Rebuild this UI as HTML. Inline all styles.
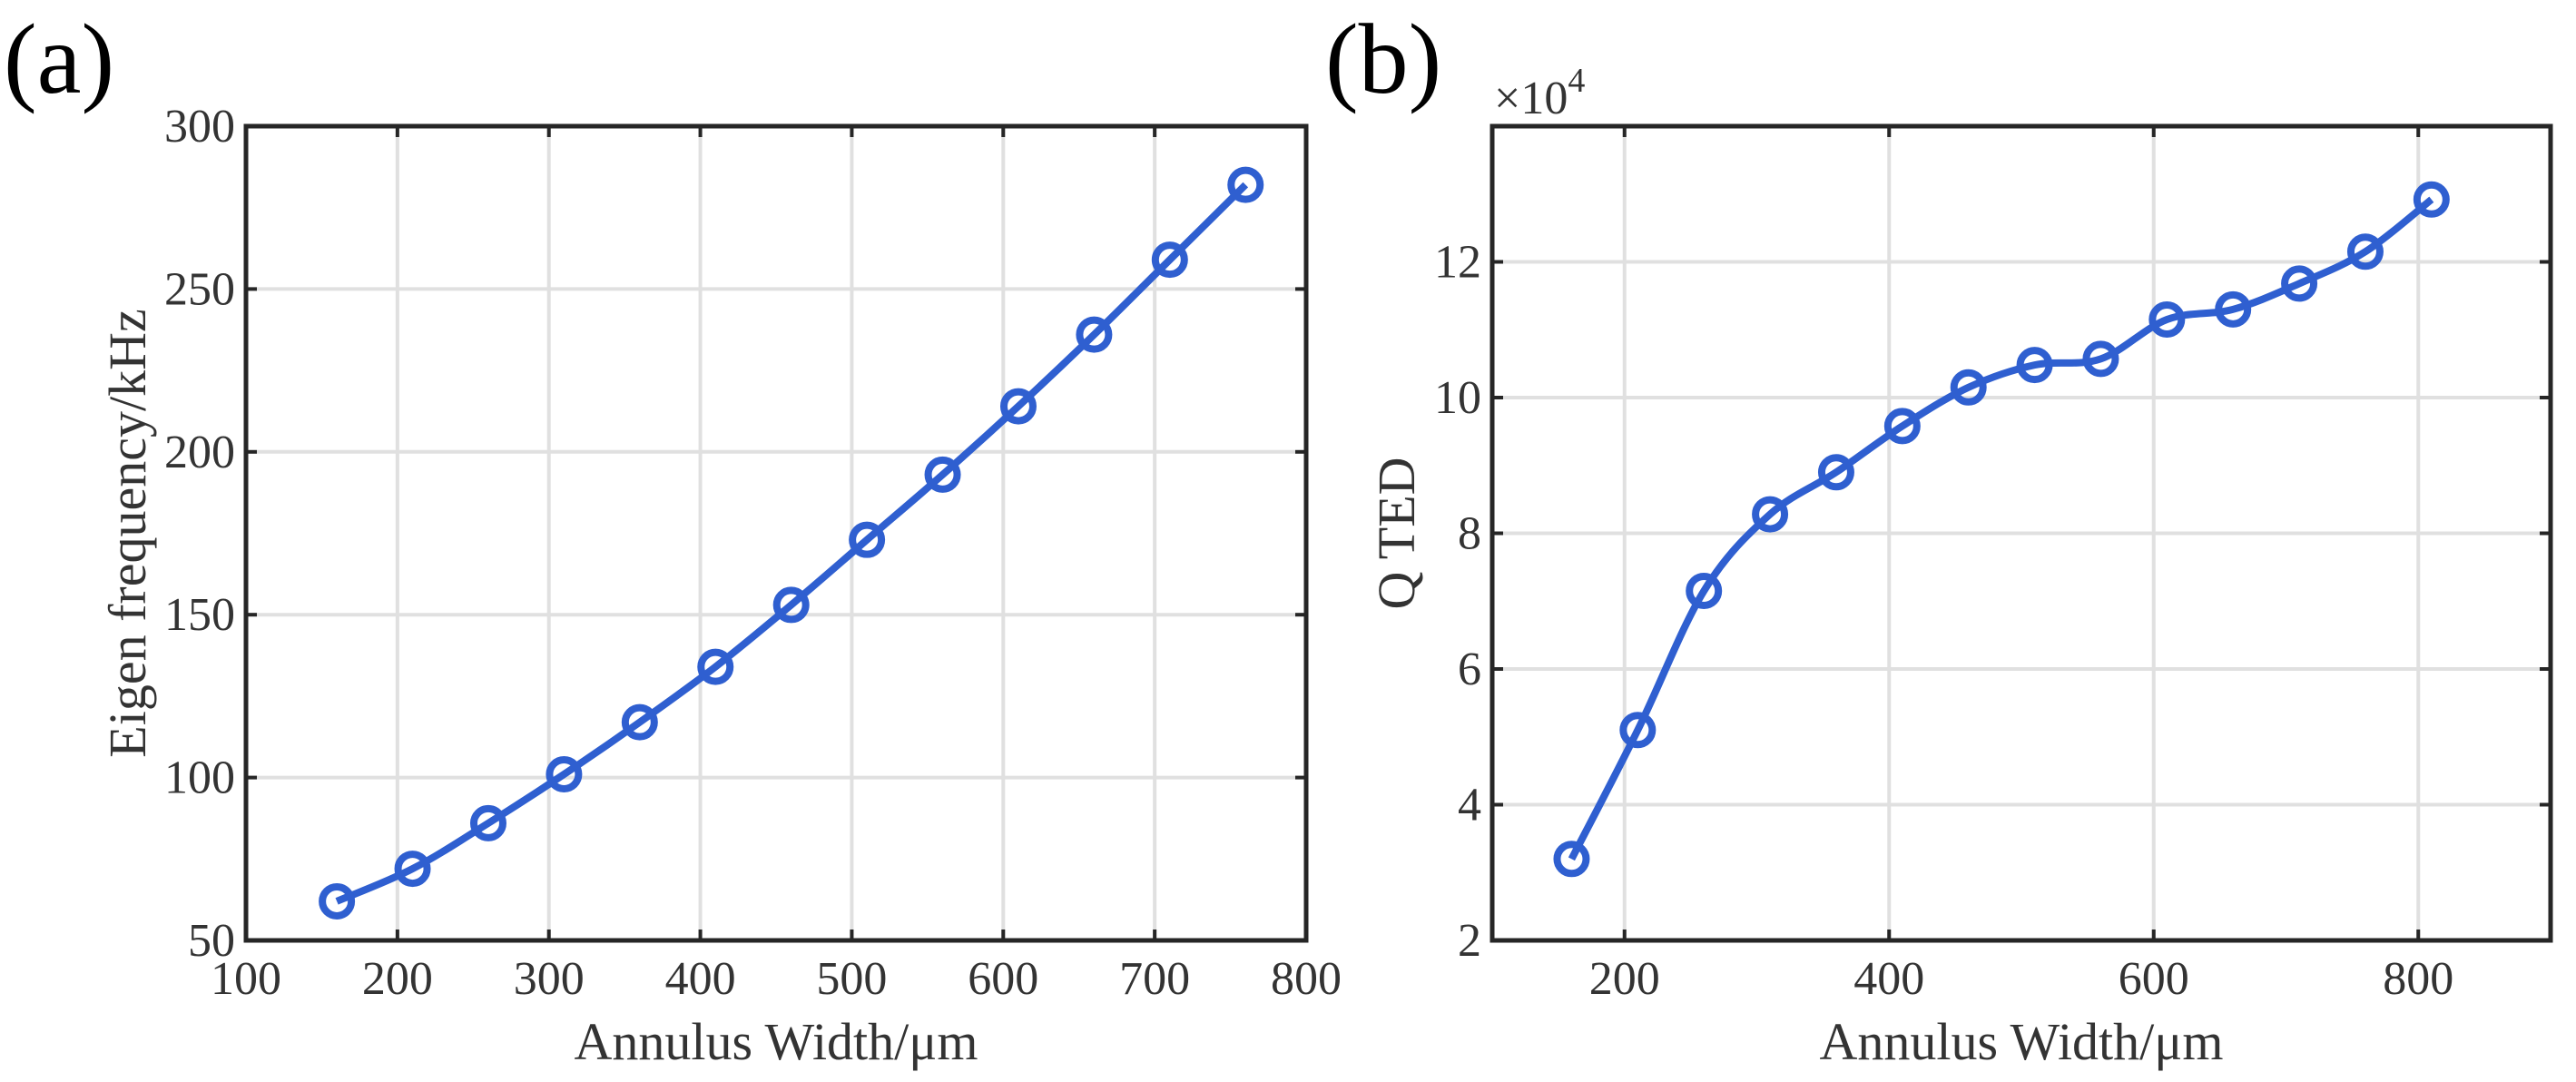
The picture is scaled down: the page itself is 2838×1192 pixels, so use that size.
<!DOCTYPE html>
<html><head><meta charset="utf-8"><style>
html,body{margin:0;padding:0;background:#fff;}
svg{display:block;font-family:"Liberation Serif",serif;}
</style></head><body>
<svg id="fig" width="2838" height="1192" viewBox="0 0 2838 1192" xmlns="http://www.w3.org/2000/svg"></svg>
<script>
const aX = [160,210,260,310,360,410,460,510,560,610,660,710,760];
const aY = [62,72,86,101,117,134,153,173,193,214,236,259,282];
const aXTicks = [100,200,300,400,500,600,700,800];
const aYTicks = [50,100,150,200,250,300];
const bX = [160,210,260,310,360,410,460,510,560,610,660,710,760,810];
const bY = [3.2,5.1,7.15,8.28,8.9,9.58,10.15,10.48,10.57,11.15,11.3,11.68,12.15,12.92];
const bXTicks = [200,400,600,800];
const bYTicks = [2,4,6,8,10,12];

const NS='http://www.w3.org/2000/svg';
const svg=document.getElementById('fig');
function mk(tag,attrs,parent){const e=document.createElementNS(NS,tag);for(const k in attrs)e.setAttribute(k,attrs[k]);(parent||svg).appendChild(e);return e;}

function panel(o){
  const g=mk('g',{});
  
  
  const sx=v=>o.L+(v-o.x0)/(o.x1-o.x0)*(o.R-o.L);
  const sy=v=>o.B-(v-o.y0)/(o.y1-o.y0)*(o.B-o.T);
  o.xt.forEach(t=>{const x=sx(t);if(x>o.L+2&&x<o.R-2){const l=mk('line',{x1:x,x2:x,y1:o.T,y2:o.B,stroke:'#e0e0e0','stroke-width':4},g);}});
  o.yt.forEach(t=>{const y=sy(t);if(y>o.T+2&&y<o.B-2){const l=mk('line',{x1:o.L,x2:o.R,y1:y,y2:y,stroke:'#e0e0e0','stroke-width':4},g);}});
  o.xt.forEach(t=>{const x=sx(t);
    mk('line',{x1:x,x2:x,y1:o.B,y2:o.B-12,stroke:'#262626','stroke-width':4},g);
    mk('line',{x1:x,x2:x,y1:o.T,y2:o.T+12,stroke:'#262626','stroke-width':4},g);
    const tx=mk('text',{x:x,y:1095,'font-size':52,'text-anchor':'middle',fill:'#333'},g);tx.textContent=t;
    });
  o.yt.forEach(t=>{const y=sy(t);
    mk('line',{x1:o.L,x2:o.L+12,y1:y,y2:y,stroke:'#262626','stroke-width':4},g);
    mk('line',{x1:o.R,x2:o.R-12,y1:y,y2:y,stroke:'#262626','stroke-width':4},g);
    const tx=mk('text',{x:o.L-12,y:y+17,'font-size':52,'text-anchor':'end',fill:'#333'},g);tx.textContent=t;
    });
  const box=mk('rect',{x:o.L,y:o.T,width:o.R-o.L,height:o.B-o.T,fill:'none',stroke:'#262626','stroke-width':5},g);
  
  const P=o.xs.map((v,i)=>[sx(v),sy(o.ys[i])]);
  let d='M'+P[0][0]+','+P[0][1];
  for(let i=0;i<P.length-1;i++){const p0=P[Math.max(0,i-1)],p1=P[i],p2=P[i+1],p3=P[Math.min(P.length-1,i+2)];
    d+=' C'+(p1[0]+(p2[0]-p0[0])/6)+','+(p1[1]+(p2[1]-p0[1])/6)+' '+(p2[0]-(p3[0]-p1[0])/6)+','+(p2[1]-(p3[1]-p1[1])/6)+' '+p2[0]+','+p2[1];}
  const ln=mk('path',{d:d,fill:'none',stroke:'#2f5fd0','stroke-width':8,'stroke-linejoin':'round'},g);
  
  P.forEach(p=>{const c=mk('circle',{cx:p[0],cy:p[1],r:16,fill:'none',stroke:'#2f5fd0','stroke-width':8},g);
    });
  const xl=mk('text',{x:(o.L+o.R)/2,y:1167,'font-size':58,'text-anchor':'middle',fill:'#333'},g);xl.textContent='Annulus Width/μm';
  
  const yl=mk('text',{x:0,y:0,'font-size':58,'text-anchor':'middle',fill:'#333',transform:'translate('+(o.ylx)+','+((o.T+o.B)/2)+') rotate(-90)'},g);yl.textContent=o.ylabel;
  
  const pl=mk('text',{x:o.plx,y:102,'font-size':110,fill:'#000'},g);pl.textContent=o.plabel;
  
}
panel({name:'chart-a',L:271,R:1439,T:139,B:1036,x0:100,x1:800,y0:50,y1:300,xt:aXTicks,yt:aYTicks,xs:aX,ys:aY,ylabel:'Eigen frequency/kHz',ylx:160,plabel:'(a)',plx:4});
panel({name:'chart-b',L:1644,R:2810,T:139,B:1036,x0:100,x1:900,y0:2,y1:14,xt:bXTicks,yt:bYTicks,xs:bX,ys:bY,ylabel:'Q TED',ylx:1558,plabel:'(b)',plx:1460});
const ex=mk('text',{x:1646,y:125,'font-size':52,fill:'#333'});


ex.innerHTML='×10<tspan font-size="38" dy="-24">4</tspan>';
</script>
</body></html>
